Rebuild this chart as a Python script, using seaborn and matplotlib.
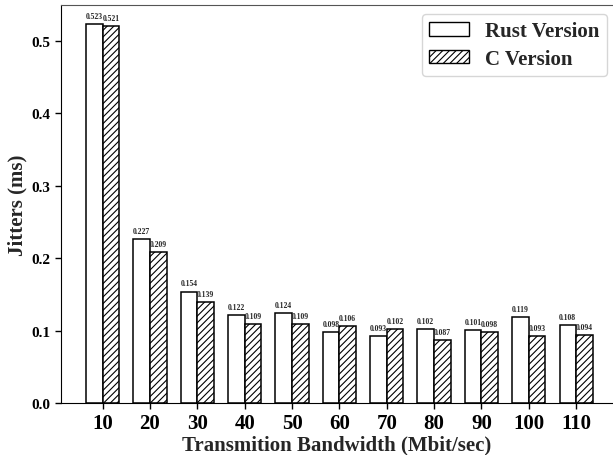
import pandas as pd
import matplotlib
matplotlib.use("Agg")
import matplotlib.pyplot as plt
import seaborn as sns
from matplotlib.patches import Patch

# --- data ---
BANDWIDTHS = [10, 20, 30, 40, 50, 60, 70, 80, 90, 100, 110]
RUST_JITTER = [0.523, 0.227, 0.154, 0.122, 0.124, 0.098, 0.093, 0.102, 0.101, 0.119, 0.108]
C_JITTER = [0.521, 0.209, 0.139, 0.109, 0.109, 0.106, 0.102, 0.087, 0.098, 0.093, 0.094]
VERSIONS = ["Rust Version", "C Version"]
Y_TICKS = [0.0, 0.1, 0.2, 0.3, 0.4, 0.5]

FONT = "Liberation Serif"

df = pd.DataFrame({
    "Bandwidth": BANDWIDTHS * 2,
    "Jitter": RUST_JITTER + C_JITTER,
    "Version": [VERSIONS[0]] * len(BANDWIDTHS) + [VERSIONS[1]] * len(BANDWIDTHS),
})

sns.set_style("ticks")
plt.rcParams["font.family"] = [FONT, "DejaVu Serif"]
plt.rcParams["font.weight"] = "bold"
plt.rcParams["hatch.linewidth"] = 0.8

fig = plt.figure(figsize=(6.13, 4.56), dpi=100)
ax = fig.add_axes([0.0995, 0.114, 0.9005, 0.873])

sns.barplot(data=df, x="Bandwidth", y="Jitter", hue="Version", hue_order=VERSIONS,
            palette=["white", "white"], edgecolor="black", linewidth=1.1,
            width=0.7, ax=ax, legend=False)

# C Version は斜線
for bar in ax.containers[1]:
    bar.set_hatch("/////")

for cont in ax.containers:
    ax.bar_label(cont, fmt="%.3f", fontsize=5.5, fontweight="bold", padding=3)

ax.set_xlim(-0.88, 10.78)
ax.set_ylim(0, 0.55)
ax.set_yticks(Y_TICKS)
ax.set_yticklabels([f"{v:.1f}" for v in Y_TICKS], fontsize=11, fontweight="bold")
ax.set_xticks(range(len(BANDWIDTHS)))
ax.set_xticklabels([str(b) for b in BANDWIDTHS], fontsize=15, fontweight="bold")
ax.set_xlabel("Transmition Bandwidth (Mbit/sec)", fontsize=15, fontweight="bold", labelpad=1)
ax.set_ylabel("Jitters (ms)", fontsize=15, fontweight="bold", labelpad=3)

ax.spines["right"].set_visible(False)
ax.spines["top"].set_color("#555555")
for s in ["left", "bottom"]:
    ax.spines[s].set_color("black")
ax.tick_params(axis="both", direction="out", length=4, width=1, colors="black")

# 凡例
handles = [Patch(facecolor="white", edgecolor="black", label=VERSIONS[0]),
           Patch(facecolor="white", edgecolor="black", hatch="/////", label=VERSIONS[1])]
leg = ax.legend(handles=handles, loc="upper right", bbox_to_anchor=(0.989, 0.977),
                borderaxespad=0,
                prop={"family": FONT, "weight": "bold", "size": 15},
                handlelength=1.9, handleheight=0.6, handletextpad=0.8,
                frameon=True, fancybox=True, borderpad=0.35, labelspacing=0.35)
leg.get_frame().set_edgecolor("#cccccc")

fig.savefig("out.png", dpi=100)
